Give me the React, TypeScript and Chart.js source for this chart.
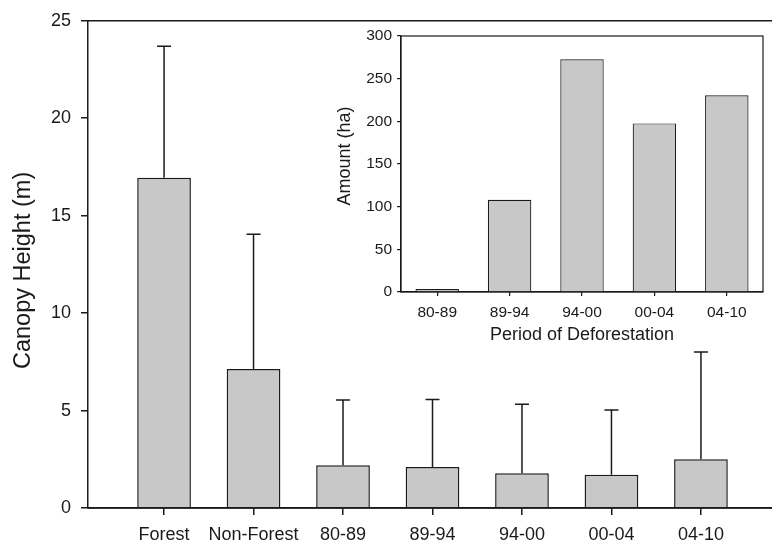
import React, { useEffect, useRef } from "react";
import { Chart, registerables } from "chart.js";

Chart.register(...registerables);

const mainCategories = ["Forest", "Non-Forest", "80-89", "89-94", "94-00", "00-04", "04-10"];
const mainMeans = [16.95, 7.13, 2.2, 2.1, 1.78, 1.71, 2.5];
const mainErrTops = [23.7, 14.05, 5.54, 5.57, 5.33, 5.03, 8.0];
const mainYTicks = [0, 5, 10, 15, 20, 25];
const mainYTitle = "Canopy Height (m)";

const insetCategories = ["80-89", "89-94", "94-00", "00-04", "04-10"];
const insetAmounts = [3.5, 108, 272.7, 197.6, 230.5];
const insetYTicks = [0, 50, 100, 150, 200, 250, 300];
const insetYTitle = "Amount (ha)";
const insetXTitle = "Period of Deforestation";

const FONT = "'Liberation Sans', Arial, sans-serif";
const LINE = "#1a1a1a";
const TEXT = "#1a1a1a";
const FILL = "#c8c8c8";

const errorBarPlugin = {
  id: "errorBars",
  afterDatasetsDraw(chart: any) {
    const meta = chart.getDatasetMeta(0);
    const yScale = chart.scales.y;
    const ctx = chart.ctx;
    ctx.save();
    ctx.strokeStyle = LINE;
    ctx.lineWidth = 1.5;
    meta.data.forEach((el: any, i: number) => {
      const x = el.x;
      const yTop = el.y;
      const yErr = yScale.getPixelForValue(mainErrTops[i]);
      ctx.beginPath();
      ctx.moveTo(x, yTop);
      ctx.lineTo(x, yErr);
      ctx.moveTo(x - 7, yErr);
      ctx.lineTo(x + 7, yErr);
      ctx.stroke();
    });
    ctx.restore();
  },
};

const topBorderPlugin = {
  id: "topBorder",
  afterDraw(chart: any) {
    const { ctx, chartArea } = chart;
    ctx.save();
    ctx.strokeStyle = LINE;
    ctx.lineWidth = 1.5;
    ctx.beginPath();
    ctx.moveTo(chartArea.left, chartArea.top);
    ctx.lineTo(chart.width, chartArea.top);
    ctx.moveTo(chartArea.left, chartArea.bottom);
    ctx.lineTo(chart.width, chartArea.bottom);
    ctx.stroke();
    const cy = (chartArea.top + chartArea.bottom) / 2 + 6;
    ctx.translate(24, cy);
    ctx.rotate(-Math.PI / 2);
    ctx.fillStyle = TEXT;
    ctx.font = `23.5px ${FONT}`;
    ctx.textAlign = "center";
    ctx.textBaseline = "middle";
    ctx.fillText(mainYTitle, 0, 0);
    ctx.restore();
  },
};

const frameBorderPlugin = {
  id: "frameBorder",
  afterDraw(chart: any) {
    const { ctx, chartArea } = chart;
    ctx.save();
    ctx.strokeStyle = LINE;
    ctx.lineWidth = 1.2;
    ctx.strokeRect(chartArea.left, chartArea.top, chartArea.right - chartArea.left, chartArea.bottom - chartArea.top);
    ctx.fillStyle = TEXT;
    ctx.font = `18px ${FONT}`;
    ctx.textAlign = "center";
    ctx.textBaseline = "middle";
    ctx.fillText(insetXTitle, (chartArea.left + chartArea.right) / 2, 335);
    ctx.translate(15, 156);
    ctx.rotate(-Math.PI / 2);
    ctx.fillText(insetYTitle, 0, 0);
    ctx.restore();
  },
};

export default function App() {
  const mainRef = useRef<HTMLCanvasElement | null>(null);
  const insetRef = useRef<HTMLCanvasElement | null>(null);

  useEffect(() => {
    if (!mainRef.current || !insetRef.current) return;
    const main = new Chart(mainRef.current, {
      type: "bar",
      data: {
        datasets: [
          {
            data: mainMeans.map((v, i) => ({ x: i, y: v })),
            backgroundColor: FILL,
            borderColor: LINE,
            borderWidth: 1.5,
            barPercentage: 0.6,
            categoryPercentage: 1,
          } as any,
        ],
      },
      options: {
        responsive: false,
        animation: false,
        events: [],
        layout: { padding: { left: 0, right: 23, top: 20, bottom: 0 } },
        plugins: { legend: { display: false }, tooltip: { enabled: false } },
        scales: {
          x: {
            type: "linear",
            min: -0.85,
            max: 6.85,
            offset: false,
            afterBuildTicks: (scale: any) => {
              scale.ticks = mainCategories.map((_, i) => ({ value: i }));
            },
            afterFit: (scale: any) => {
              scale.height = 35;
            },
            ticks: {
              autoSkip: false,
              maxRotation: 0,
              padding: 9,
              color: TEXT,
              font: { family: FONT, size: 18 },
              callback: (v: any) => mainCategories[Math.round(Number(v))] ?? "",
            },
            grid: { offset: false, drawOnChartArea: false, tickLength: 7, color: LINE, lineWidth: 1.5 },
            border: { display: true, color: LINE, width: 1.5 },
          },
          y: {
            min: 0,
            max: 25,
            afterBuildTicks: (scale: any) => {
              scale.ticks = mainYTicks.map((v) => ({ value: v }));
            },
            afterFit: (scale: any) => {
              scale.width = 88;
            },
            ticks: {
              padding: 10,
              color: TEXT,
              font: { family: FONT, size: 18 },
            },
            grid: { drawOnChartArea: false, tickLength: 7, color: LINE, lineWidth: 1.5 },
            border: { display: true, color: LINE, width: 1.5 },
          },
        },
      },
      plugins: [errorBarPlugin, topBorderPlugin],
    } as any);

    const inset = new Chart(insetRef.current, {
      type: "bar",
      data: {
        labels: insetCategories,
        datasets: [
          {
            data: insetAmounts,
            backgroundColor: FILL,
            borderColor: LINE,
            borderWidth: 1.2,
            barPercentage: 0.6,
            categoryPercentage: 1,
          } as any,
        ],
      },
      options: {
        responsive: false,
        animation: false,
        events: [],
        layout: { padding: { left: 0, right: 9, top: 36, bottom: 0 } },
        plugins: { legend: { display: false }, tooltip: { enabled: false } },
        scales: {
          x: {
            afterFit: (scale: any) => {
              scale.height = 58;
            },
            ticks: {
              autoSkip: false,
              maxRotation: 0,
              padding: 7,
              color: TEXT,
              font: { family: FONT, size: 15.5 },
            },
            grid: { offset: false, drawOnChartArea: false, tickLength: 4, color: LINE, lineWidth: 1.2 },
            border: { display: true, color: LINE, width: 1.2 },
          },
          y: {
            min: 0,
            max: 300,
            afterBuildTicks: (scale: any) => {
              scale.ticks = insetYTicks.map((v) => ({ value: v }));
            },
            afterFit: (scale: any) => {
              scale.width = 71;
            },
            ticks: {
              padding: 5,
              color: TEXT,
              font: { family: FONT, size: 15.5 },
            },
            grid: { drawOnChartArea: false, tickLength: 4, color: LINE, lineWidth: 1.2 },
            border: { display: true, color: LINE, width: 1.2 },
          },
        },
      },
      plugins: [frameBorderPlugin],
    } as any);

    return () => {
      main.destroy();
      inset.destroy();
    };
  }, []);

  return (
    <div
      style={{
        position: "fixed",
        left: 0,
        top: 0,
        width: 772,
        height: 543,
        overflow: "hidden",
        background: "#ffffff",
      }}
    >
      <canvas ref={mainRef} width={800} height={543} style={{ position: "absolute", left: 0, top: 0, width: 800, height: 543 }} />
      <canvas ref={insetRef} width={442} height={350} style={{ position: "absolute", left: 330, top: 0, width: 442, height: 350 }} />
    </div>
  );
}
